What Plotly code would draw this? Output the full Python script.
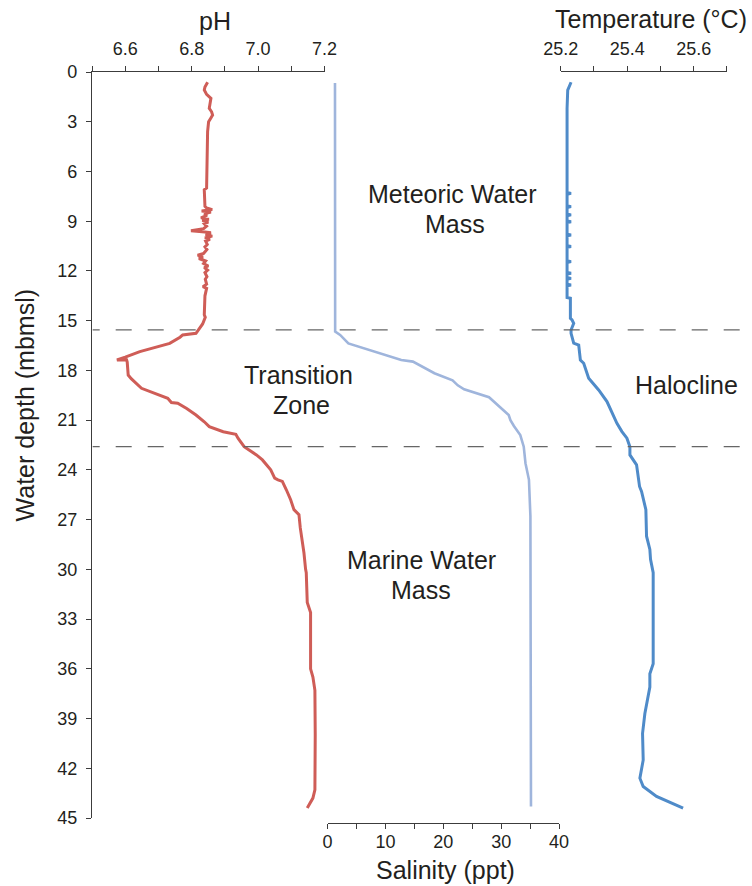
import plotly.graph_objects as go

# ---- pH profile (depth in mbmsl, pH) ----
ph_depth = [0.62, 0.9, 1.09, 1.35, 1.59, 1.9, 2.19, 2.4, 2.6, 2.8, 3.0, 3.6, 5.0, 7.0, 7.1, 7.8,
            8.1, 8.2, 8.3, 8.38, 8.45, 8.55, 8.65, 8.8, 8.88, 8.95, 9.05, 9.15, 9.3, 9.45, 9.58,
            9.65, 9.7, 9.8, 9.9, 10.0, 10.1, 10.2, 10.4, 10.55, 10.7, 10.95, 11.05, 11.15, 11.25,
            11.4, 11.55, 11.7, 11.8, 11.95, 12.1, 12.35, 12.5, 12.8, 12.95, 13.05, 13.5,
            14.65, 14.8, 15.2, 15.5, 15.76, 15.86, 16.0, 16.37, 16.87, 17.2, 17.37, 17.36, 17.5,
            18.28, 18.5, 19.08, 19.4, 19.68, 19.94, 19.98, 20.3, 20.69, 21.1, 21.39, 21.7, 21.85,
            22.1, 22.6, 23.1, 23.4, 24.0, 24.5, 24.6, 24.7, 25.2, 25.8, 26.4, 26.7, 27.5, 28.2,
            29.0, 30.0, 30.2, 32.0, 32.6, 34.0, 36.0, 36.5, 37.3, 40.0, 43.3, 43.8, 44.4]
ph_value = [6.848, 6.840, 6.838, 6.845, 6.858, 6.856, 6.853, 6.860, 6.863, 6.857, 6.851, 6.848, 6.846, 6.845, 6.838, 6.838,
            6.840, 6.845, 6.862, 6.830, 6.858, 6.838, 6.846, 6.828, 6.852, 6.832, 6.850, 6.838, 6.845, 6.836, 6.798,
            6.840, 6.858, 6.842, 6.862, 6.840, 6.855, 6.842, 6.847, 6.840, 6.846, 6.836, 6.818, 6.834, 6.822,
            6.842, 6.836, 6.850, 6.838, 6.848, 6.840, 6.846, 6.841, 6.845, 6.834, 6.845, 6.840,
            6.838, 6.841, 6.833, 6.822, 6.813, 6.773, 6.765, 6.734, 6.644, 6.600, 6.575, 6.604, 6.606,
            6.609, 6.618, 6.649, 6.690, 6.728, 6.739, 6.758, 6.785, 6.813, 6.838, 6.853, 6.895, 6.933,
            6.940, 6.958, 6.995, 7.013, 7.038, 7.050, 7.060, 7.073, 7.085, 7.098, 7.108, 7.123, 7.127, 7.133,
            7.138, 7.143, 7.145, 7.148, 7.158, 7.158, 7.158, 7.165, 7.171, 7.172, 7.171, 7.165, 7.148]

# ---- Salinity profile (depth, ppt) ----
sal_depth = [0.66, 5.0, 10.0, 15.66, 15.86, 16.0, 16.37, 17.37, 17.47, 18.17, 18.6, 18.9, 19.14,
             19.62, 20.08, 20.69, 21.0, 21.35, 21.9, 22.6, 23.6, 24.6, 26.8, 35.0, 44.3]
sal_value = [1.29, 1.30, 1.30, 1.32, 2.18, 2.6, 3.6, 12.74, 14.75, 18.47, 21.6, 22.5, 23.6,
             27.9, 29.3, 31.3, 31.6, 32.2, 33.3, 33.9, 34.2, 34.8, 35.05, 35.1, 35.15]

# ---- Temperature profile (depth, degC) ----
temp_depth = [0.62, 1.09, 2.2, 7.27, 7.32, 7.37, 8.07, 8.12, 8.17, 8.57, 8.62, 8.67, 8.98, 9.03, 9.08,
              9.78, 9.83, 9.88, 10.48, 10.53, 10.58, 11.39, 11.44, 11.49, 12.09, 12.14, 12.19,
              12.40, 12.45, 12.50, 12.80, 12.85, 12.90, 13.6, 13.65, 14.86, 14.96, 15.16, 15.56,
              15.76, 16.36, 16.47, 17.37, 17.57, 18.47, 19.18, 19.88, 20.58, 21.19, 21.69, 22.09,
              22.6, 23.1, 23.7, 25.0, 25.3, 26.4, 28.0, 28.8, 29.4, 30.2, 35.7, 36.3, 37.1, 38.7,
              39.9, 41.5, 42.6, 43.1, 43.7, 44.4]
temp_value = [25.231, 25.221, 25.219, 25.219, 25.231, 25.219, 25.219, 25.231, 25.219, 25.219, 25.231, 25.219,
              25.219, 25.231, 25.219, 25.219, 25.231, 25.219, 25.219, 25.231, 25.219, 25.219, 25.231, 25.219,
              25.219, 25.231, 25.219, 25.219, 25.231, 25.219, 25.219, 25.231, 25.219, 25.219, 25.229,
              25.229, 25.234, 25.239, 25.231, 25.231, 25.239, 25.254, 25.259, 25.269, 25.284, 25.314,
              25.339, 25.354, 25.369, 25.384, 25.399, 25.408, 25.408, 25.428, 25.437, 25.443, 25.456,
              25.458, 25.468, 25.470, 25.478, 25.478, 25.468, 25.468, 25.453, 25.446, 25.448, 25.438,
              25.448, 25.488, 25.568]

# ---- Zone boundaries (depth) ----
boundary_depths = [15.55, 22.6]

# ---- Tick values / labels ----
depth_ticks = list(range(0, 46, 3))
ph_ticks = [6.5, 6.6, 6.7, 6.8, 6.9, 7.0, 7.1, 7.2]
ph_ticktext = ["", "6.6", "", "6.8", "", "7.0", "", "7.2"]
temp_ticks = [25.2, 25.3, 25.4, 25.5, 25.6, 25.7]
temp_ticktext = ["25.2", "", "25.4", "", "25.6", ""]
sal_ticks = [0, 5, 10, 15, 20, 25, 30, 35, 40]
sal_ticktext = ["0", "", "10", "", "20", "", "30", "", "40"]

# ---- Zone labels ----
zone_lines = ["Meteoric Water", "Mass", "Transition", "Zone", "Halocline", "Marine Water", "Mass"]

W, H = 752, 886
L, R, T, B = 92, 21, 72, 63          # plot box; bottom edge sits on the salinity axis
DEPTH_BOTTOM = 818                   # pixel row of the 45 m tick
PW, PH = W - L - R, H - T - B


def px(x):
    return (x - L) / PW


def py(y):
    return (H - B - y) / PH


TEXT = "#231f20"
AXIS = "#3c3c3c"
FONT = "Liberation Sans, Arial, sans-serif"

fig = go.Figure()
fig.add_trace(go.Scatter(x=ph_value, y=ph_depth, xaxis="x", yaxis="y", mode="lines",
                         line=dict(color="#cf5d57", width=3), hoverinfo="skip"))
fig.add_trace(go.Scatter(x=temp_value, y=temp_depth, xaxis="x2", yaxis="y", mode="lines",
                         line=dict(color="#4f8bc9", width=3), hoverinfo="skip"))
fig.add_trace(go.Scatter(x=sal_value, y=sal_depth, xaxis="x3", yaxis="y", mode="lines",
                         line=dict(color="#9fb5dc", width=2.6), hoverinfo="skip"))

common_axis = dict(showline=True, linecolor=AXIS, linewidth=1.3, ticks="outside", ticklen=5,
                   tickwidth=1.3, tickcolor=AXIS, showgrid=False, zeroline=False,
                   tickfont=dict(family=FONT, size=18, color=TEXT), ticklabelstandoff=4)

fig.update_layout(
    width=W, height=H,
    margin=dict(l=L, r=R, t=T, b=B),
    paper_bgcolor="white", plot_bgcolor="white",
    showlegend=False,
    xaxis=dict(common_axis, domain=[0, px(326)], range=[6.5, 7.2], side="top", anchor="y",
               tickmode="array", tickvals=ph_ticks, ticktext=ph_ticktext),
    xaxis2=dict(common_axis, domain=[px(563.7), 1], range=[25.2, 25.7], side="top", anchor="y",
                tickmode="array", tickvals=temp_ticks, ticktext=temp_ticktext),
    xaxis3=dict(common_axis, domain=[px(329), px(562)], range=[0, 40], side="bottom", anchor="free",
                position=0, tickmode="array", tickvals=sal_ticks, ticktext=sal_ticktext,
                ticklabelstandoff=-3),
    yaxis=dict(common_axis, domain=[py(DEPTH_BOTTOM), 1], range=[45, 0], anchor="x",
               tickmode="array", tickvals=depth_ticks, ticklabelstandoff=5),
)

# Dashed zone boundaries
dash_pattern = "7px,16px" + ",16px,16px" * 22
for d in boundary_depths:
    fig.add_shape(type="line", xref="paper", yref="y", x0=px(92.7), x1=px(752), y0=d, y1=d,
                  line=dict(color="#666666", width=1.3, dash=dash_pattern), layer="above")

# Axis titles
titles = [("pH", 216, 21, 0), ("Temperature (°C)", 655, 19, 0),
          ("Salinity (ppt)", 448, 870, 0), ("Water depth (mbmsl)", 25, 405, -90)]
for text, x, y, ang in titles:
    fig.add_annotation(text=text, xref="paper", yref="paper", x=px(x), y=py(y),
                       xanchor="center", yanchor="middle", showarrow=False, textangle=ang,
                       font=dict(family=FONT, size=25, color=TEXT))

# Zone labels
label_pos = [(455, 194), (457, 224), (300, 375), (303, 405), (690, 385), (424, 560), (423, 590)]
for text, (x, y) in zip(zone_lines, label_pos):
    fig.add_annotation(text=text, xref="paper", yref="paper", x=px(x), y=py(y),
                       xanchor="center", yanchor="middle", showarrow=False,
                       font=dict(family=FONT, size=25, color=TEXT))

fig.write_html("out.html")
